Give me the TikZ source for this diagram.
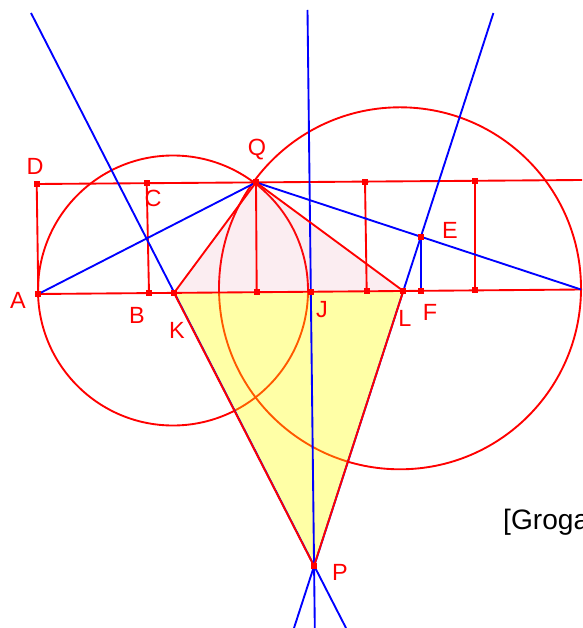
\documentclass[tikz,border=0pt]{standalone}
\usepackage{fontspec}
\setmainfont{Liberation Sans}
\usetikzlibrary{calc}
\definecolor{ptred}{RGB}{255,0,0}
\definecolor{lnblue}{RGB}{0,0,255}
\definecolor{tripink}{RGB}{220,80,120}
\definecolor{triyellow}{RGB}{255,255,0}

\begin{document}
\begin{tikzpicture}[x=0.03cm, y=-0.03cm,
    redline/.style={ptred, line width=1.6pt},
    blueline/.style={lnblue, line width=1.6pt},
    lbl/.style={text=ptred, font=\fontsize{20}{24}\selectfont, inner sep=0pt}
]

% Canvas
\useasboundingbox (0,0) rectangle (582,628);
\clip (0,0) rectangle (582,628);

% Points
\coordinate (D) at (36.7,184);
\coordinate (C) at (146.7,183.2);
\coordinate (Q) at (256,182.4);
\coordinate (N1) at (365,181.6);
\coordinate (R1) at (475,180.8);
\coordinate (TopEnd) at (582,180);
\coordinate (A) at (38.3,294);
\coordinate (B) at (149,293.1);
\coordinate (K) at (174,292.9);
\coordinate (M) at (256.7,292.2);
\coordinate (J) at (310.7,291.7);
\coordinate (N2) at (366.7,291.3);
\coordinate (L) at (403.3,291.0);
\coordinate (F) at (420.7,290.8);
\coordinate (R2) at (475,290.4);
\coordinate (RC) at (581,289.5);
\coordinate (BotEnd) at (582,289.5);
\coordinate (E) at (420.7,236.6);
\coordinate (P) at (314,566);

% Ends of the long lines
\coordinate (KT) at (31,13);
\coordinate (KB) at (346,628);
\coordinate (LT) at (493.4,13);
\coordinate (LB) at (294,628);
\coordinate (JT) at (307.5,10);
\coordinate (JB) at (314.8,628);

% Circles
\draw[redline] (173,290.5) circle[radius=135];
\draw[redline] (400,288.3) circle[radius=181];

% Shaded triangles
\fill[tripink, fill opacity=0.1] (K) -- (Q) -- (L) -- cycle;
\fill[triyellow, fill opacity=0.35] (K) -- (L) -- (P) -- cycle;

% Rectangle lines
\draw[redline] (D) -- (TopEnd);
\draw[redline] (A) -- (BotEnd);
\draw[redline] (D) -- (A);
\draw[redline] (C) -- (B);
\draw[redline] (Q) -- (M);
\draw[redline] (N1) -- (N2);
\draw[redline] (R1) -- (R2);

% Blue lines
\draw[blueline] (A) -- (Q) -- (RC);
\draw[blueline] (E) -- (F);
\draw[blueline] (KT) -- (KB);
\draw[blueline] (LT) -- (LB);
\draw[blueline] (JT) -- (JB);

% Triangle edges
\draw[redline] (K) -- (Q) -- (L);
\draw[redline] (K) -- (P) -- (L);

% Point marks
\foreach \p in {D,C,Q,N1,R1,A,B,K,M,J,N2,L,F,R2,E,P}
    \fill[ptred] ([shift={(-3,-3)}]\p) rectangle ++(6,6);

% Labels
\node[lbl] (labD) at (35,166) {D};
\node[lbl] (labC) at (153,198) {C};
\node[lbl] (labA) at (18,300) {A};
\node[lbl] (labB) at (137,315) {B};
\node[lbl] (labK) at (177,330) {K};
\node[lbl] (labQ) at (257,150) {Q};
\node[lbl] (labJ) at (322,310) {J};
\node[lbl] (labL) at (405,318) {L};
\node[lbl] (labF) at (430,312) {F};
\node[lbl] (labE) at (450,230) {E};
\node[lbl] (labP) at (340,572) {P};

% Source note
\node[anchor=base west, inner sep=0pt, font=\fontsize{24}{28}\selectfont] (src) at (503,529) {[Groga};

\end{tikzpicture}
\end{document}
